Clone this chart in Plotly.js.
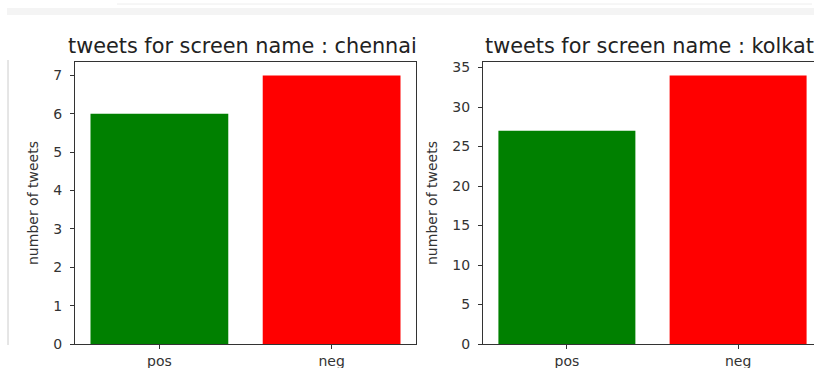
<!DOCTYPE html>
<html>
<head>
<meta charset="utf-8">
<script src="https://cdn.plot.ly/plotly-3.0.1.min.js"></script>
<style>
html,body{margin:0;padding:0;overflow:hidden;background:#fff;width:814px;height:368px;}
#chart{width:830px;height:368px;}
</style>
</head>
<body>
<div id="chart"></div>
<script>
const categories = ["pos", "neg"];
const chennaiValues = [6, 7];
const kolkataValues = [27, 34];
const barColors = ["#008000", "#ff0000"];
const titles = ["tweets for screen name : chennai", "tweets for screen name : kolkata"];
const yLabel = "number of tweets";
const chennaiTicks = [0, 1, 2, 3, 4, 5, 6, 7];
const kolkataTicks = [0, 5, 10, 15, 20, 25, 30, 35];

const W = 830, H = 368;
const px = v => v / W;
const py = v => (H - v) / H;

const traces = [
  {type: "bar", x: categories, y: chennaiValues, marker: {color: barColors, line: {width: 0}}, width: 0.8, xaxis: "x", yaxis: "y", hoverinfo: "none"},
  {type: "bar", x: categories, y: kolkataValues, marker: {color: barColors, line: {width: 0}}, width: 0.8, xaxis: "x2", yaxis: "y2", hoverinfo: "none"}
];

const axisCommon = {
  showline: true, mirror: true, linecolor: "#333", linewidth: 1,
  ticks: "outside", ticklen: 4, tickcolor: "#333", tickwidth: 1,
  showgrid: false, zeroline: false,
  tickfont: {family: "DejaVu Sans", size: 14, color: "#333"},
  fixedrange: true
};

const layout = {
  width: W, height: H,
  margin: {l: 0, r: 0, t: 0, b: 0},
  paper_bgcolor: "#fff", plot_bgcolor: "#fff",
  showlegend: false,
  xaxis: Object.assign({}, axisCommon, {domain: [px(75), px(416)], range: [-0.49, 1.49], type: "category", anchor: "y", ticklabelstandoff: 0}),
  yaxis: Object.assign({}, axisCommon, {domain: [py(344), py(62)], range: [0, 7.35], tickvals: chennaiTicks, anchor: "x", ticklabelstandoff: 5}),
  xaxis2: Object.assign({}, axisCommon, {domain: [px(483), px(822)], range: [-0.49, 1.49], type: "category", anchor: "y2", ticklabelstandoff: 0}),
  yaxis2: Object.assign({}, axisCommon, {domain: [py(344), py(62)], range: [0, 35.7], tickvals: kolkataTicks, anchor: "x2", ticklabelstandoff: 5}),
  annotations: [
    {text: titles[0], xref: "paper", yref: "paper", x: px(242.5), y: py(46), xanchor: "center", yanchor: "middle", showarrow: false, font: {family: "DejaVu Sans", size: 20.8, color: "#222"}},
    {text: titles[1], xref: "paper", yref: "paper", x: px(655.5), y: py(46), xanchor: "center", yanchor: "middle", showarrow: false, font: {family: "DejaVu Sans", size: 20.8, color: "#222"}},
    {text: yLabel, xref: "paper", yref: "paper", x: px(33), y: py(203), xanchor: "center", yanchor: "middle", textangle: -90, showarrow: false, font: {family: "DejaVu Sans", size: 14, color: "#333"}},
    {text: yLabel, xref: "paper", yref: "paper", x: px(432), y: py(203), xanchor: "center", yanchor: "middle", textangle: -90, showarrow: false, font: {family: "DejaVu Sans", size: 14, color: "#333"}}
  ],
  shapes: [
    {type: "rect", xref: "paper", yref: "paper", x0: px(7), x1: 1, y0: py(15), y1: py(8), fillcolor: "#f4f4f4", line: {width: 0}, layer: "below"},
    {type: "line", xref: "paper", yref: "paper", x0: px(117), x1: px(812), y0: py(4), y1: py(4), line: {color: "#eeeeee", width: 1}},
    {type: "line", xref: "paper", yref: "paper", x0: px(8), x1: px(8), y0: py(60), y1: py(345), line: {color: "#cccccc", width: 1}}
  ]
};

Plotly.newPlot("chart", traces, layout, {displayModeBar: false, staticPlot: true});
</script>
</body>
</html>
